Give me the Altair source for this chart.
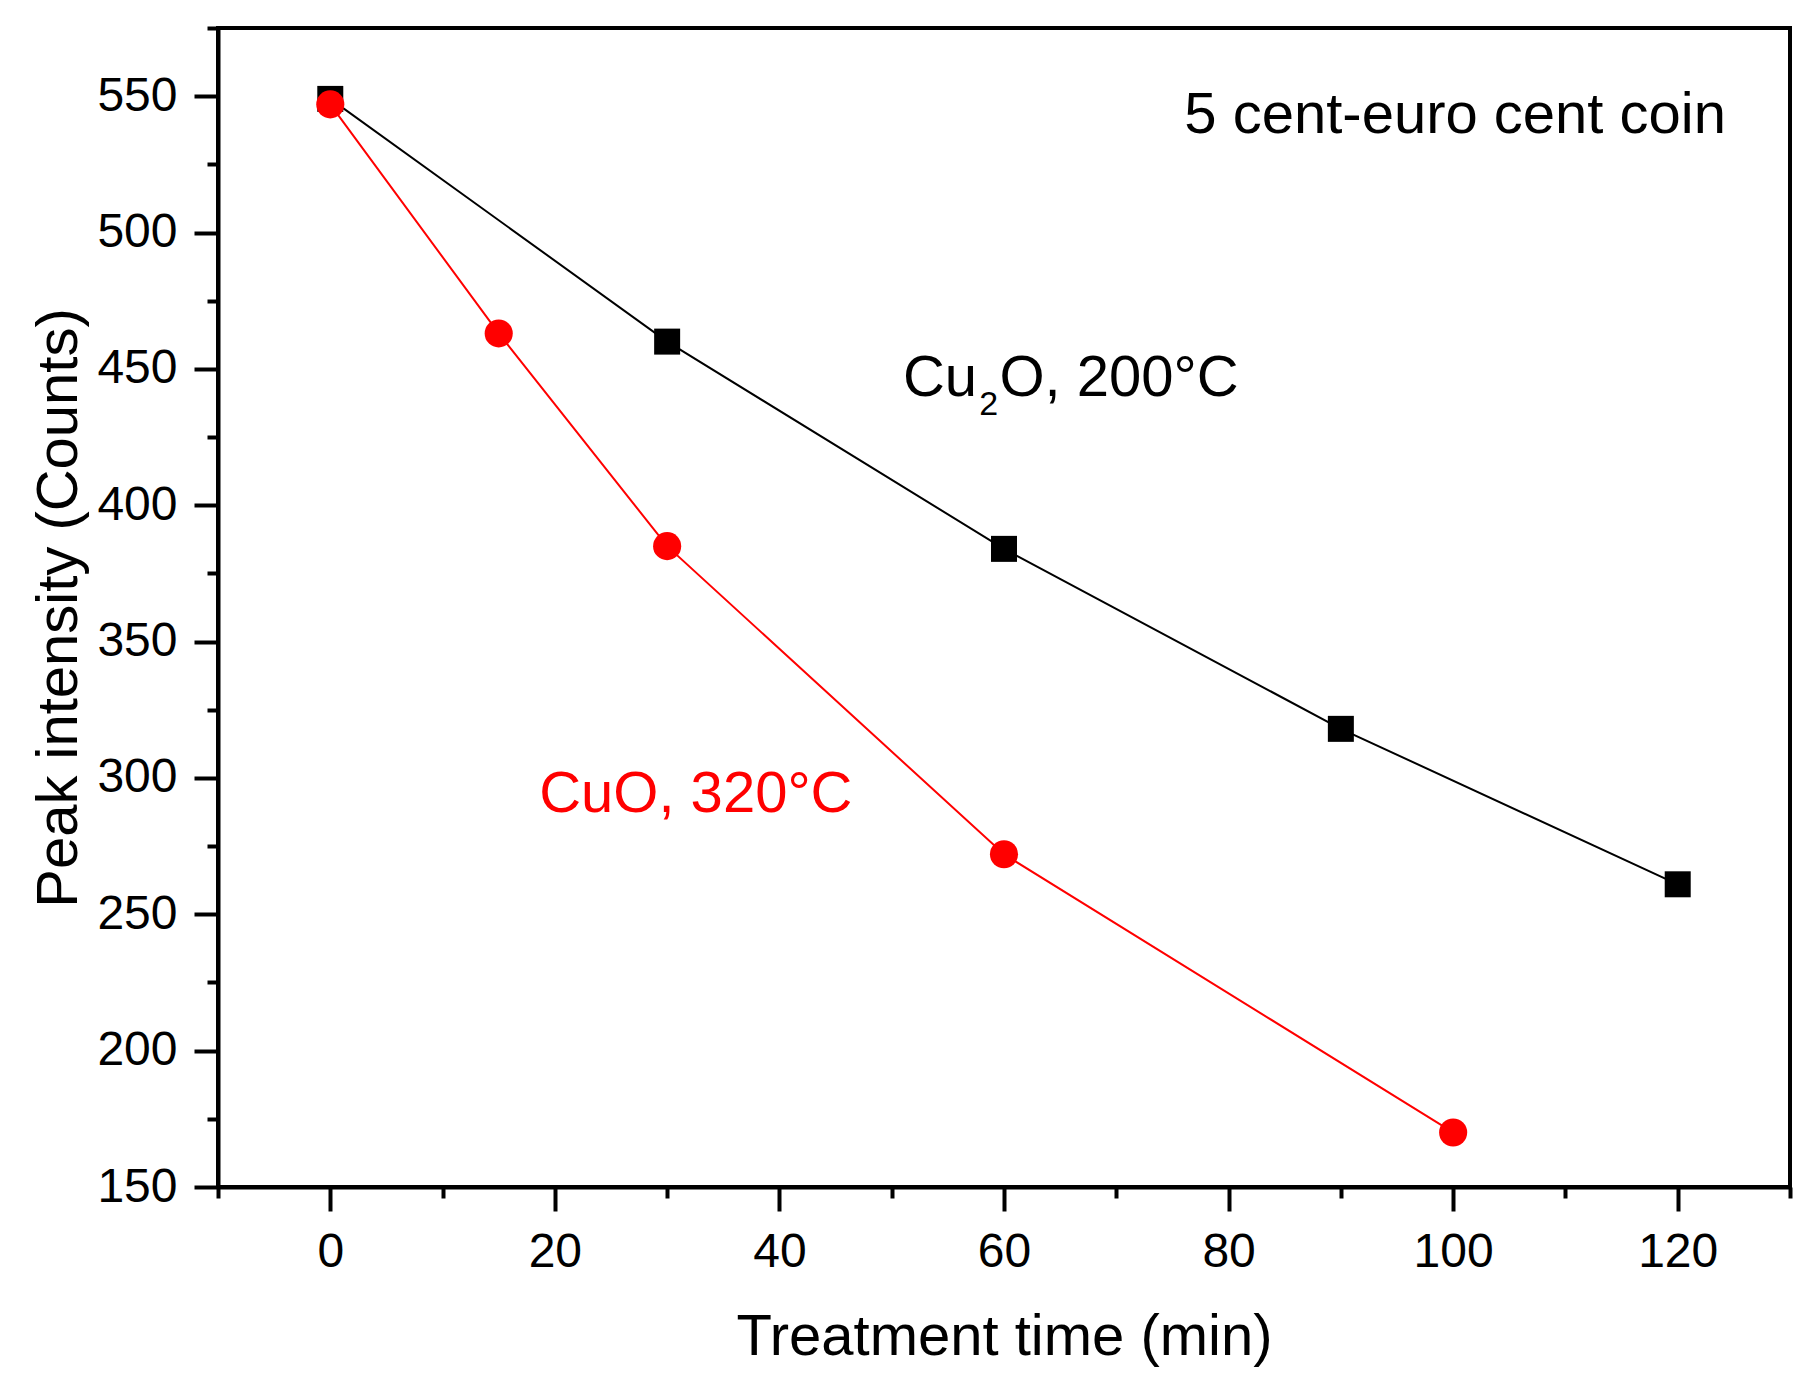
import altair as alt
import pandas as pd

# ---- data ----
time_cu2o = [0, 30, 60, 90, 120]
counts_cu2o = [549, 460, 384, 318, 261]

time_cuo = [0, 15, 30, 60, 100]
counts_cuo = [547, 463, 385, 272, 170]

x_tick_values = list(range(-10, 131, 10))
y_tick_values = list(range(150, 576, 25))

# annotations (data coordinates)
title_text = ["5 cent-euro cent coin"]
title_x = [124.3]
title_y = [536.5]

cu2o_parts = ["Cu", "O, 200°C"]
cu2o_parts_x = [51.0, 59.6]
cu2o_parts_y = [440.2, 440.2]
cu2o_sub = ["2"]
cu2o_sub_x = [57.8]
cu2o_sub_y = [433.1]

cuo_text = ["CuO, 320°C"]
cuo_x = [18.6]
cuo_y = [287.5]

FONT = "Liberation Sans"

df_a = pd.DataFrame({"t": time_cu2o, "c": counts_cu2o})
df_b = pd.DataFrame({"t": time_cuo, "c": counts_cuo})

xscale = alt.Scale(domain=[-10, 130], nice=False, zero=False)
yscale = alt.Scale(domain=[150, 575], nice=False, zero=False)

x_axis = alt.Axis(
    values=x_tick_values,
    labelExpr="datum.value % 20 === 0 ? datum.label : ''",
    tickSize={"condition": {"test": "datum.value % 20 === 0", "value": 24}, "value": 11},
    tickWidth=4, tickColor="black",
    domainWidth=4, domainColor="black",
    labelFont=FONT, labelFontSize=48, labelColor="black", labelPadding=17,
    labelOverlap=False, labelFlush=False,
    title="Treatment time (min)", titleFont=FONT, titleFontSize=58,
    titleFontWeight="normal", titleColor="black", titlePadding=32,
    grid=False,
)
y_axis = alt.Axis(
    values=y_tick_values,
    labelExpr="datum.value % 50 === 0 ? datum.label : ''",
    tickSize={"condition": {"test": "datum.value % 50 === 0", "value": 24}, "value": 11},
    tickWidth=4, tickColor="black",
    domainWidth=4, domainColor="black",
    labelFont=FONT, labelFontSize=48, labelColor="black", labelPadding=17,
    labelOverlap=False, labelFlush=False,
    title="Peak intensity (Counts)", titleFont=FONT, titleFontSize=58,
    titleFontWeight="normal", titleColor="black", titlePadding=8,
    grid=False,
)

X = alt.X("t:Q", scale=xscale, axis=x_axis)
Y = alt.Y("c:Q", scale=yscale, axis=y_axis)

black_line = alt.Chart(df_a).mark_line(color="black", strokeWidth=2).encode(x=X, y=Y)
black_pts = alt.Chart(df_a).mark_point(
    shape="square", filled=True, size=676, color="black", opacity=1
).encode(x=X, y=Y)
red_line = alt.Chart(df_b).mark_line(color="#ff0000", strokeWidth=2).encode(x=X, y=Y)
red_pts = alt.Chart(df_b).mark_circle(size=790, color="#ff0000", opacity=1).encode(x=X, y=Y)

def text_layer(txt, xs, ys, size, color, align):
    d = pd.DataFrame({"label": txt, "t": xs, "c": ys})
    return alt.Chart(d).mark_text(
        font=FONT, fontSize=size, color=color, align=align, baseline="alphabetic"
    ).encode(
        x=alt.X("t:Q", scale=xscale),
        y=alt.Y("c:Q", scale=yscale),
        text="label:N",
    )

t1 = text_layer(title_text, title_x, title_y, 58, "black", "right")
t2 = text_layer(cu2o_parts, cu2o_parts_x, cu2o_parts_y, 58, "black", "left")
t3 = text_layer(cu2o_sub, cu2o_sub_x, cu2o_sub_y, 34, "black", "left")
t4 = text_layer(cuo_text, cuo_x, cuo_y, 58, "#ff0000", "left")

chart = alt.layer(black_line, black_pts, red_line, red_pts, t1, t2, t3, t4).properties(
    width=1572,
    height=1159,
    autosize=alt.AutoSizeParams(type="none"),
    padding={"left": 210, "top": 20, "right": 20, "bottom": 186},
    background="white",
).configure_view(stroke="black", strokeWidth=4)

chart.save("out.html", embed_options={"renderer": "svg", "actions": False})
